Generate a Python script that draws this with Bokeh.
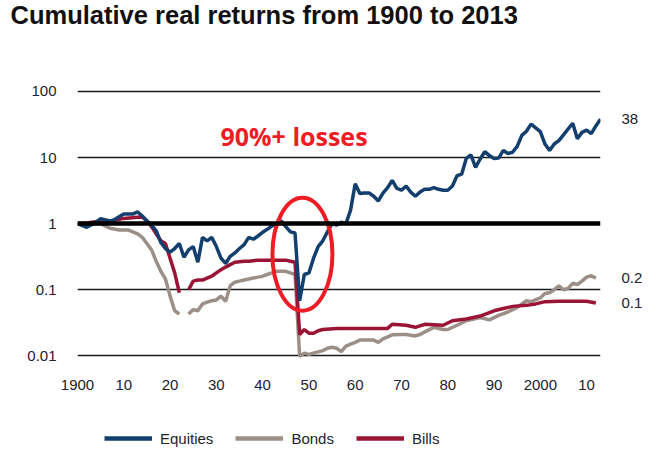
from bokeh.plotting import figure
from bokeh.layouts import column
from bokeh.models import (Range1d, FixedTicker, Span, Label, Legend, LegendItem, LogAxis)
from bokeh.embed import file_html
from bokeh.resources import INLINE

nan = float("nan")

# ---------------- data ----------------
eq_years = [1900, 1902, 1904, 1905, 1907, 1908, 1910, 1912, 1913, 1914, 1915, 1916, 1917, 1918,
            1919, 1920, 1921, 1922, 1923, 1924, 1925, 1926, 1927, 1928, 1929, 1930, 1931, 1932,
            1933, 1934, 1935, 1936, 1937, 1938, 1939, 1940, 1941, 1942, 1943, 1944, 1945, 1946,
            1947, 1948, 1949, 1950, 1951, 1952, 1953, 1954, 1955, 1956, 1957, 1958, 1959, 1960,
            1961, 1962, 1963, 1964, 1965, 1966, 1967, 1968, 1969, 1970, 1971, 1972, 1973, 1974,
            1975, 1976, 1977, 1978, 1979, 1980, 1981, 1982, 1983, 1984, 1985, 1986, 1987, 1988,
            1989, 1990, 1991, 1992, 1993, 1994, 1995, 1996, 1997, 1998, 1999, 2000, 2001, 2002,
            2003, 2004, 2005, 2006, 2007, 2008, 2009, 2010, 2011, 2012, 2013]
equities = [1.0, 0.88, 1.05, 1.19, 1.1, 1.15, 1.4, 1.4, 1.5, 1.3, 1.1, 0.95, 0.78, 0.52,
            0.42, 0.37, 0.42, 0.5, 0.31, 0.4, 0.45, 0.26, 0.62, 0.55, 0.62, 0.45, 0.3, 0.25,
            0.32, 0.36, 0.42, 0.48, 0.62, 0.58, 0.65, 0.74, 0.82, 0.92, 1.0, 1.1, 0.9, 0.75,
            0.72, 0.068, 0.17, 0.18, 0.3, 0.45, 0.55, 0.75, 1.0, 0.95, 1.05, 1.0, 1.6, 4.0,
            2.85, 2.9, 2.9, 2.6, 2.2, 2.9, 3.5, 4.5, 3.4, 3.2, 3.7, 3.0, 2.6, 3.0,
            3.3, 3.3, 3.5, 3.3, 3.2, 3.2, 3.7, 5.3, 5.6, 9.7, 11.0, 7.1, 9.5, 12.3,
            10.7, 9.7, 9.8, 12.8, 11.5, 12.0, 14.7, 21.6, 25.0, 32.0, 28.0, 24.6, 16.0, 12.8,
            16.0, 18.0, 22.0, 27.0, 33.0, 19.2, 24.0, 26.0, 23.0, 30.0, 38.0]

bd_years = [1900, 1902, 1905, 1907, 1909, 1911, 1913, 1914, 1915, 1916, 1917, 1918, 1919, 1920,
            1921, 1922, 1923, 1924, 1925, 1926, 1927, 1928, 1929, 1930, 1931, 1932, 1933, 1934,
            1935, 1936, 1937, 1938, 1939, 1940, 1941, 1942, 1943, 1944, 1945, 1946, 1947, 1948,
            1949, 1950, 1951, 1952, 1953, 1954, 1955, 1956, 1957, 1958, 1959, 1960, 1961, 1964,
            1965, 1966, 1968, 1970, 1971, 1973, 1974, 1975, 1977, 1979, 1980, 1982, 1984, 1987,
            1989, 1991, 1993, 1995, 1997, 1998, 2000, 2001, 2002, 2003, 2004, 2005, 2006, 2007,
            2008, 2009, 2010, 2011, 2012]
bonds = [1.0, 0.95, 1.0, 0.85, 0.8, 0.8, 0.7, 0.62, 0.5, 0.4, 0.27, 0.19, 0.146, 0.08,
         0.048, 0.043, nan, 0.043, 0.05, 0.048, 0.061, 0.065, 0.068, 0.07, 0.08, 0.067, 0.115, 0.13,
         0.135, 0.14, 0.145, 0.15, 0.155, 0.16, 0.17, 0.18, 0.19, 0.19, 0.19, 0.18, 0.17, 0.0098,
         0.011, 0.0105, 0.011, 0.0115, 0.012, 0.013, 0.0135, 0.013, 0.0116, 0.014, 0.015, 0.016, 0.0173, 0.0173,
         0.016, 0.018, 0.0208, 0.021, 0.021, 0.02, 0.021, 0.023, 0.027, 0.025, 0.025, 0.029, 0.034, 0.038,
         0.035, 0.041, 0.046, 0.054, 0.068, 0.066, 0.075, 0.088, 0.09, 0.1, 0.115, 0.1, 0.105, 0.125,
         0.12, 0.135, 0.155, 0.163, 0.15]

bl_years = [1900, 1902, 1905, 1907, 1910, 1913, 1914, 1915, 1916, 1917, 1918, 1919, 1920, 1921,
            1922, 1923, 1924, 1925, 1926, 1927, 1928, 1929, 1930, 1931, 1932, 1933, 1934, 1935,
            1936, 1937, 1938, 1939, 1945, 1946, 1947, 1948, 1949, 1950, 1951, 1952, 1953, 1956,
            1960, 1967, 1968, 1971, 1973, 1975, 1979, 1981, 1984, 1987, 1990, 1992, 1994, 1997,
            1999, 2001, 2004, 2010, 2012]
bills = [1.0, 1.02, 1.1, 1.08, 1.2, 1.25, 1.25, 1.1, 0.9, 0.7, 0.55, 0.5, 0.3, 0.18,
         0.09, nan, 0.1, 0.135, 0.14, 0.14, 0.15, 0.16, 0.18, 0.2, 0.22, 0.24, 0.26, 0.265,
         0.27, 0.27, 0.275, 0.28, 0.28, 0.27, 0.26, 0.021, 0.025, 0.022, 0.022, 0.024, 0.025, 0.026,
         0.026, 0.026, 0.03, 0.029, 0.027, 0.03, 0.029, 0.034, 0.036, 0.04, 0.048, 0.052, 0.056, 0.058,
         0.061, 0.066, 0.067, 0.067, 0.063]

series_names = ["Equities", "Bonds", "Bills"]
end_labels = ["38", "0.2", "0.1"]
x_ticks = [1900, 1910, 1920, 1930, 1940, 1950, 1960, 1970, 1980, 1990, 2000, 2010]
x_tick_labels = ["1900", "10", "20", "30", "40", "50", "60", "70", "80", "90", "2000", "10"]
y_ticks = [0.01, 0.1, 1, 10, 100]
y_tick_labels = ["0.01", "0.1", "1", "10", "100"]
title_text = "Cumulative real returns from 1900 to 2013"
note_text = "90%+ losses"
note_circle_x = 1948.6
note_circle_y = 0.345

# ---------------- styling ----------------
C_EQ = "#123f6d"
C_BD = "#9b8f87"
C_BL = "#9a1436"
C_RED = "#ee1c25"
TXT = "#222230"
FONT = "Liberation Sans"
W = 660
LEFT = 77
TITLE_H = 48


def strip(height):
    f = figure(width=W, height=height, output_backend="svg", toolbar_location=None,
               x_range=Range1d(0, 1), y_range=Range1d(0, 1), min_border=0,
               x_axis_location=None, y_axis_location=None)
    f.grid.visible = False
    f.outline_line_color = None
    return f


# ---- title strip (frames are aligned by the column, so offset back to x=10) ----
pt = strip(TITLE_H)
pt.title.text = title_text
pt.title.align = "left"
pt.title.vertical_align = "top"
pt.title.offset = 10 - LEFT
pt.title.standoff = 0
pt.title.text_font = FONT
pt.title.text_font_style = "bold"
pt.title.text_font_size = "25.5px"
pt.title.text_color = "#111111"

# ---- main chart ----
p = figure(width=W, height=400 - TITLE_H, output_backend="svg", toolbar_location=None,
           y_axis_type="log",
           x_range=Range1d(1900, 2013), y_range=Range1d(0.006, 200),
           min_border_left=LEFT, min_border_right=60, min_border_top=71 - TITLE_H,
           min_border_bottom=30)
p.outline_line_color = None

p.xgrid.grid_line_color = None
p.ygrid.ticker = FixedTicker(ticks=[t for t in y_ticks if t != 1])
p.ygrid.grid_line_color = "#1a1a1a"
p.ygrid.grid_line_width = 1.5

right_ax = LogAxis()
p.add_layout(right_ax, "right")

for ax in (p.xaxis[0], p.yaxis[0], right_ax):
    ax.axis_line_color = None
    ax.major_tick_line_color = None
    ax.minor_tick_line_color = None
    ax.major_label_text_font = FONT
    ax.major_label_text_font_size = "15px"
    ax.major_label_text_color = TXT

p.xaxis[0].ticker = FixedTicker(ticks=x_ticks)
p.xaxis[0].major_label_overrides = {t: l for t, l in zip(x_ticks, x_tick_labels)}
p.xaxis[0].major_label_standoff = 3
p.yaxis[0].ticker = FixedTicker(ticks=y_ticks)
p.yaxis[0].major_label_overrides = {t: l for t, l in zip(y_ticks, y_tick_labels)}
p.yaxis[0].major_label_standoff = 15

end_vals = [equities[-1], bonds[-1], bills[-1]]
right_ax.ticker = FixedTicker(ticks=end_vals)
right_ax.major_label_overrides = {v: l for v, l in zip(end_vals, end_labels)}
right_ax.major_label_standoff = 15

p.add_layout(Span(location=1, dimension="width", line_color="black", line_width=4.5))

r_bd = p.line(bd_years, bonds, line_color=C_BD, line_width=3.5)
r_bl = p.line(bl_years, bills, line_color=C_BL, line_width=3.5)
r_eq = p.line(eq_years, equities, line_color=C_EQ, line_width=3.5)

p.ellipse(x=[note_circle_x], y=[note_circle_y], width=60, height=113,
          width_units="screen", height_units="screen",
          fill_alpha=0, line_color=C_RED, line_width=4)

p.add_layout(Label(x=143, y=299 - (135 - 71), x_units="screen", y_units="screen", text=note_text,
                   text_font="Open Sans", text_font_style="bold", text_font_size="25px",
                   text_color=C_RED, text_baseline="alphabetic"))

# ---- legend strip ----
pl = strip(55)
# off-screen two-point lines that only serve as legend swatches
lr = [pl.line([5, 6], [5, 6], line_color=c, line_width=4.5) for c in (C_EQ, C_BD, C_BL)]
legend = Legend(items=[LegendItem(label=n, renderers=[r]) for n, r in zip(series_names, lr)],
                orientation="horizontal", location=(104 - LEFT, 7),
                glyph_width=48, glyph_height=20, label_standoff=8, spacing=22,
                padding=0, margin=0, border_line_color=None, background_fill_alpha=0,
                label_text_font=FONT, label_text_font_size="15px", label_text_color=TXT)
pl.add_layout(legend)

layout = column(pt, p, pl, spacing=0)
open("out.html", "w").write(file_html(layout, INLINE))
